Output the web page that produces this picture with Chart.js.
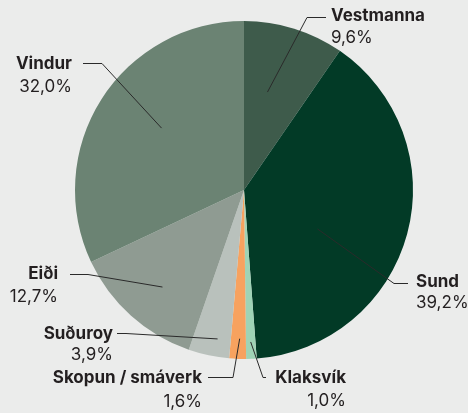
<!DOCTYPE html>
<html>
<head>
<meta charset="utf-8">
<script src="https://cdn.jsdelivr.net/npm/chart.js@4.4.1/dist/chart.umd.min.js"></script>
<style>
html,body{margin:0;padding:0;background:#ebeceb;}
#wrap{width:468px;height:413px;position:relative;}
</style>
</head>
<body>
<div id="wrap"><canvas id="c" width="468" height="413"></canvas></div>
<script>
const categories = ["Vestmanna", "Sund", "Klaksvík", "Skopun / smáverk", "Suðuroy", "Eiði", "Vindur"];
const shares = [9.6, 39.2, 1.0, 1.6, 3.9, 12.7, 32.0];
const percentLabels = ["9,6%", "39,2%", "1,0%", "1,6%", "3,9%", "12,7%", "32,0%"];
const sliceColors = ["#3e5b4b", "#023a26", "#9fd3b6", "#f7a25f", "#b9c1bc", "#8f9b92", "#6b8373"];

// label layout: angle tweak (deg), anchor radius fraction, elbow, line end, text x, align, name y, pct y
const labelLayout = [
  {da:-3.8, rf:0.596, elbow:[307,17], end:[326,17], tx:331, align:"left", ny:16, py:38},
  {da:12.8, rf:0.492, elbow:[394,283], end:[408,283], tx:416, align:"left", ny:282, py:303},
  {da:0, rf:0.90, elbow:[263,377], end:[266,377], tx:346, align:"right", ny:378, py:401},
  {da:-0.5, rf:0.88, elbow:[233,377], end:[208,377], tx:202, align:"right", ny:378, py:402},
  {da:-2, rf:0.895, elbow:[126,333], end:[117,333], tx:113, align:"right", ny:334, py:355},
  {da:-1.9, rf:0.75, elbow:[88,274], end:[70,274], tx:58, align:"right", ny:274, py:297},
  {da:4.5, rf:0.61, elbow:[102,63], end:[83,63], tx:72, align:"right", ny:64, py:87}
];

const FONT = "Inter, 'DejaVu Sans', sans-serif";

const leaderPlugin = {
  id: "leaders",
  afterDraw(chart) {
    const ctx = chart.ctx;
    const meta = chart.getDatasetMeta(0);
    meta.data.forEach((arc, i) => {
      const p = arc.getProps(["x","y","startAngle","endAngle","outerRadius"], true);
      const L = labelLayout[i];
      const mid = (p.startAngle + p.endAngle) / 2 + L.da * Math.PI / 180;
      const ax = p.x + Math.cos(mid) * p.outerRadius * L.rf;
      const ay = p.y + Math.sin(mid) * p.outerRadius * L.rf;
      ctx.save();
      ctx.strokeStyle = "#2a2a2a";
      ctx.lineWidth = 1;
      ctx.beginPath();
      ctx.moveTo(ax, ay);
      ctx.lineTo(L.elbow[0], L.elbow[1] + 0.5);
      ctx.lineTo(L.end[0], L.end[1] + 0.5);
      ctx.stroke();
      ctx.fillStyle = "#231f20";
      ctx.textAlign = L.align;
      ctx.textBaseline = "middle";
      ctx.font = "700 17px " + FONT;
      ctx.fillText(categories[i], L.tx, L.ny);
      ctx.font = "400 17px " + FONT;
      ctx.fillText(percentLabels[i], L.tx, L.py);
      ctx.restore();
    });
  }
};

new Chart(document.getElementById("c"), {
  type: "pie",
  data: {
    labels: categories,
    datasets: [{
      data: shares,
      backgroundColor: sliceColors,
      borderWidth: 0
    }]
  },
  options: {
    responsive: false,
    animation: false,
    layout: { padding: { left: 75, right: 55, top: 21, bottom: 54 } },
    plugins: { legend: { display: false }, tooltip: { enabled: false } }
  },
  plugins: [leaderPlugin]
});
</script>
</body>
</html>
